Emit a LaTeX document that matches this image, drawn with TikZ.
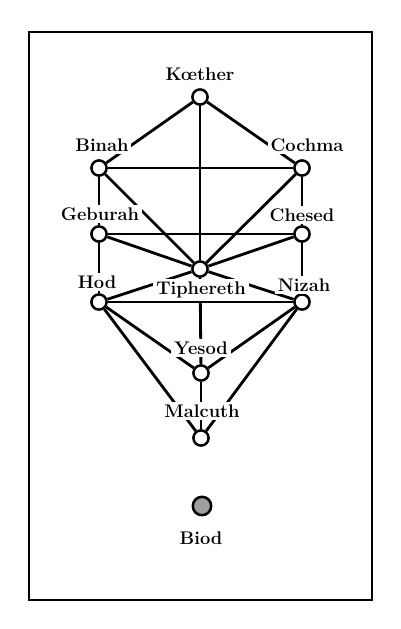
\documentclass[tikz,border=0pt]{standalone}
\begin{document}
\begin{tikzpicture}
[
	sefira/.style={circle,draw,fill=white,line width=1.8pt,inner sep=0pt,minimum size=0.38cm},
	sefname/.style={fill=white,inner sep=2pt,font=\bfseries\fontsize{13}{15}\selectfont},
	conduit/.style={line width=2pt},
	x=0.025cm,y=-0.025cm
]

	\useasboundingbox (0,0) rectangle (400,629);

	% frame
	\draw[line width=2pt] (29,32) rectangle (372,600);

	% sefirot
	\node[sefira] at (200,97) (kether) {};
	\node[sefira] at (99,168) (binah) {};
	\node[sefira] at (302,168) (cochma) {};
	\node[sefira] at (99,234) (geburah) {};
	\node[sefira] at (302,234) (chesed) {};
	\node[sefira] at (200,269) (tiphereth) {};
	\node[sefira] at (99,302) (hod) {};
	\node[sefira] at (302,302) (nizah) {};
	\node[sefira] at (201,373) (yesod) {};
	\node[sefira] at (201,438) (malcuth) {};
	\node[sefira,fill=gray!75,minimum size=0.46cm] at (202,506) (biod) {};

	% paths between them
	\foreach \a/\b in {kether/binah,kether/cochma,kether/tiphereth,
		binah/cochma,binah/geburah,binah/tiphereth,
		cochma/chesed,cochma/tiphereth,
		geburah/chesed,geburah/tiphereth,geburah/hod,
		chesed/tiphereth,chesed/nizah,
		tiphereth/hod,tiphereth/nizah,tiphereth/yesod,
		hod/nizah,hod/yesod,hod/malcuth,
		nizah/yesod,nizah/malcuth,yesod/malcuth}
		\draw[conduit] (\a) -- (\b);

	% names
	\node[sefname] at (200,74) (ketherlabel) {Kœther};
	\node[sefname] at (102,145) (binahlabel) {Binah};
	\node[sefname] at (307,145) (cochmalabel) {Cochma};
	\node[sefname] at (100,214) (geburahlabel) {Geburah};
	\node[sefname] at (302,215) (chesedlabel) {Chesed};
	\node[sefname] at (97,282) (hodlabel) {Hod};
	\node[sefname] at (201,290) (tipherethlabel) {Tiphereth};
	\node[sefname] at (304,285) (nizahlabel) {Nizah};
	\node[sefname] at (201,348) (yesodlabel) {Yesod};
	\node[sefname] at (202,411) (malcuthlabel) {Malcuth};
	\node[sefname] at (201,538) (biodlabel) {Biod};

\end{tikzpicture}
\end{document}
